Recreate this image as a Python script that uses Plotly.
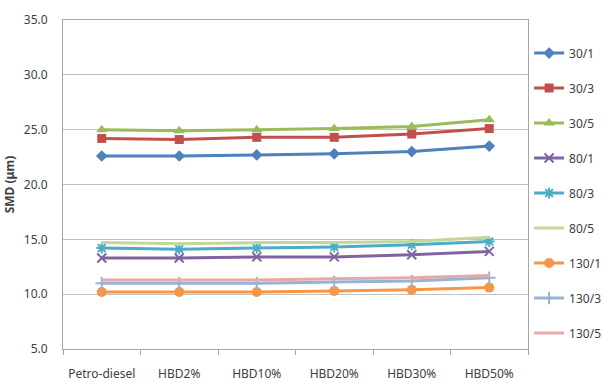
import plotly.graph_objects as go

categories = ["Petro-diesel", "HBD2%", "HBD10%", "HBD20%", "HBD30%", "HBD50%"]
series_names = ["30/1", "30/3", "30/5", "80/1", "80/3", "80/5", "130/1", "130/3", "130/5"]
s30_1 = [22.6, 22.6, 22.7, 22.8, 23.0, 23.5]
s30_3 = [24.2, 24.1, 24.3, 24.3, 24.6, 25.1]
s30_5 = [25.0, 24.9, 25.0, 25.1, 25.3, 25.9]
s80_1 = [13.3, 13.3, 13.4, 13.4, 13.6, 13.9]
s80_3 = [14.2, 14.1, 14.2, 14.3, 14.5, 14.8]
s80_5 = [14.7, 14.6, 14.7, 14.7, 14.8, 15.2]
s130_1 = [10.2, 10.2, 10.2, 10.3, 10.4, 10.6]
s130_3 = [11.0, 11.0, 11.0, 11.1, 11.2, 11.5]
s130_5 = [11.3, 11.3, 11.3, 11.4, 11.5, 11.7]
values = [s30_1, s30_3, s30_5, s80_1, s80_3, s80_5, s130_1, s130_3, s130_5]

colors = ["#4F81BD", "#C0504D", "#9BBB59", "#8064A2", "#4BACC6",
          "#C3D69B", "#F79646", "#95B3D7", "#E6A9A8"]
symbols = ["diamond", "square", "triangle-up", "x-thin", "asterisk",
           "line-ew", "circle", "cross-thin", "line-ew"]
sizes = [9, 9, 10, 9, 9, 1, 10, 9, 1]

fig = go.Figure()
for i, (name, vals) in enumerate(zip(series_names, values)):
    thin = symbols[i] in ("x-thin", "asterisk", "cross-thin", "line-ew")
    fig.add_trace(go.Scatter(
        x=categories, y=vals, name=name, mode="lines+markers",
        legendgroup=name,
        line=dict(color=colors[i], width=3),
        marker=dict(symbol=symbols[i], size=sizes[i], color=colors[i],
                    line=dict(color=colors[i], width=2 if thin else 0)),
    ))

fig.update_layout(
    width=604, height=383,
    margin=dict(l=63, r=76, t=20, b=34, autoexpand=False),
    paper_bgcolor="white", plot_bgcolor="white",
    font=dict(family="Noto Sans", size=12, color="#404040"),
    legend=dict(xref="container", x=0.876, xanchor="left",
                yref="container", y=0.496, yanchor="middle",
                maxheight=1,
                font=dict(size=12, color="#404040"),
                tracegroupgap=16, itemwidth=30, bgcolor="rgba(0,0,0,0)"),
    showlegend=True,
)
fig.update_xaxes(
    type="category", range=[-0.5, 5.5], tickson="boundaries",
    ticks="outside", ticklen=5, tickcolor="#A6A6A6",
    showline=True, linecolor="#A6A6A6", linewidth=1, mirror=True,
    showgrid=False, ticklabelstandoff=14, automargin=False,
    tickfont=dict(size=12, color="#404040"),
)
fig.update_yaxes(
    range=[5, 35], dtick=5, tickformat=".1f",
    showgrid=True, gridcolor="#BFBFBF", gridwidth=1,
    showline=True, linecolor="#A6A6A6", linewidth=1, mirror=True,
    ticks="", ticklabelstandoff=12, zeroline=False, automargin=False,
    tickfont=dict(size=12, color="#404040"),
    title=dict(text="<b>SMD (μm)</b>", font=dict(size=12, color="#404040"), standoff=6),
)

fig.write_html("out.html")
